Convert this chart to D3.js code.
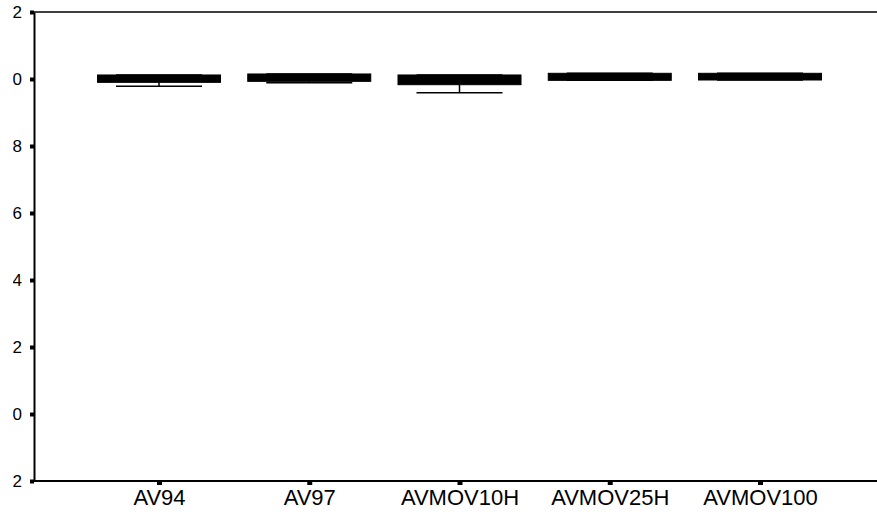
<!DOCTYPE html>
<html>
<head>
<meta charset="utf-8">
<script src="https://cdn.jsdelivr.net/npm/d3@7"></script>
<style>
  body { margin: 0; background: #fff; }
  text { font-family: "Liberation Sans", Arial, sans-serif; fill: #000; }
</style>
</head>
<body>
<script>
// categories and box statistics
var categories = ['AV94', 'AV97', 'AVMOV10H', 'AVMOV25H', 'AVMOV100'];
var lowWhisker = [9.78, 9.885, 9.59, 9.96, 9.97];
var q1 = [9.90, 9.93, 9.83, 9.96, 9.97];
var median = [10.0, 10.05, 9.98, 10.07, 10.07];
var q3 = [10.12, 10.15, 10.12, 10.17, 10.17];
var highWhisker = [10.12, 10.15, 10.12, 10.17, 10.17];
var yTicks = [12, 10, 8, 6, 4, 2, 0, -2];

var W = 877, H = 518;
var plotLeft = 34, plotTop = 12, plotBottom = 481;

var svg = d3.select('body').append('svg')
            .attr('width', W)
            .attr('height', H);

var xScale = d3.scalePoint().domain(categories).range([159, 760]);
var yScale = d3.scaleLinear().domain([-2, 12]).range([plotBottom, plotTop]);
var boxW = 123;

// the scan cuts off the leading digits of the y labels
svg.append('defs').append('clipPath')
   .attr('id', 'labelclip')
   .append('rect')
   .attr('x', 13 - plotLeft).attr('y', -20)
   .attr('width', 60).attr('height', H + 40);

// frame lines
svg.append('line')
   .attr('x1', plotLeft).attr('x2', W)
   .attr('y1', plotTop).attr('y2', plotTop)
   .attr('stroke', '#000').attr('stroke-width', 1.5);
svg.append('line')
   .attr('x1', plotLeft).attr('x2', W)
   .attr('y1', plotBottom).attr('y2', plotBottom)
   .attr('stroke', '#000').attr('stroke-width', 2);

// y axis
var yAxis = d3.axisLeft(yScale)
              .tickValues(yTicks)
              .tickSize(4)
              .tickSizeOuter(0)
              .tickPadding(8);
var gY = svg.append('g')
            .attr('transform', 'translate(' + plotLeft + ',0)')
            .attr('clip-path', 'url(#labelclip)')
            .call(yAxis);
gY.select('.domain').attr('stroke', '#000').attr('stroke-width', 2);
gY.selectAll('.tick line').attr('stroke', '#000').attr('stroke-width', 4);
gY.selectAll('.tick text').style('font-size', '17px');

// x axis
var xAxis = d3.axisBottom(xScale)
              .tickSize(4)
              .tickSizeOuter(0)
              .tickPadding(4);
var gX = svg.append('g')
            .attr('transform', 'translate(0,' + plotBottom + ')')
            .call(xAxis);
gX.select('.domain').remove();
gX.selectAll('.tick line').attr('stroke', '#000').attr('stroke-width', 5);
gX.selectAll('.tick text').style('font-size', '22px');

// boxes
var boxes = svg.append('g').attr('class', 'boxes')
               .selectAll('g')
               .data(categories)
               .enter()
               .append('g');

// whiskers
boxes.append('line')
     .attr('x1', function(d) { return xScale(d); })
     .attr('x2', function(d) { return xScale(d); })
     .attr('y1', function(d, i) { return yScale(q1[i]); })
     .attr('y2', function(d, i) { return yScale(lowWhisker[i]); })
     .attr('stroke', '#000').attr('stroke-width', 1.5);
boxes.append('line')
     .attr('x1', function(d) { return xScale(d) - 43; })
     .attr('x2', function(d) { return xScale(d) + 43; })
     .attr('y1', function(d, i) { return yScale(lowWhisker[i]); })
     .attr('y2', function(d, i) { return yScale(lowWhisker[i]); })
     .attr('stroke', '#000').attr('stroke-width', 1.5);
boxes.append('line')
     .attr('x1', function(d) { return xScale(d) - 43; })
     .attr('x2', function(d) { return xScale(d) + 43; })
     .attr('y1', function(d, i) { return yScale(highWhisker[i]); })
     .attr('y2', function(d, i) { return yScale(highWhisker[i]); })
     .attr('stroke', '#000').attr('stroke-width', 1.5);

// box body, filled dark like the scan
boxes.append('rect')
     .attr('x', function(d) { return xScale(d) - boxW / 2; })
     .attr('y', function(d, i) { return yScale(q3[i]); })
     .attr('width', boxW)
     .attr('height', function(d, i) { return yScale(q1[i]) - yScale(q3[i]); })
     .attr('fill', '#000')
     .attr('stroke', '#000')
     .attr('stroke-width', 1);

// median
boxes.append('line')
     .attr('x1', function(d) { return xScale(d) - boxW / 2; })
     .attr('x2', function(d) { return xScale(d) + boxW / 2; })
     .attr('y1', function(d, i) { return yScale(median[i]); })
     .attr('y2', function(d, i) { return yScale(median[i]); })
     .attr('stroke', '#000').attr('stroke-width', 1);
</script>
</body>
</html>
